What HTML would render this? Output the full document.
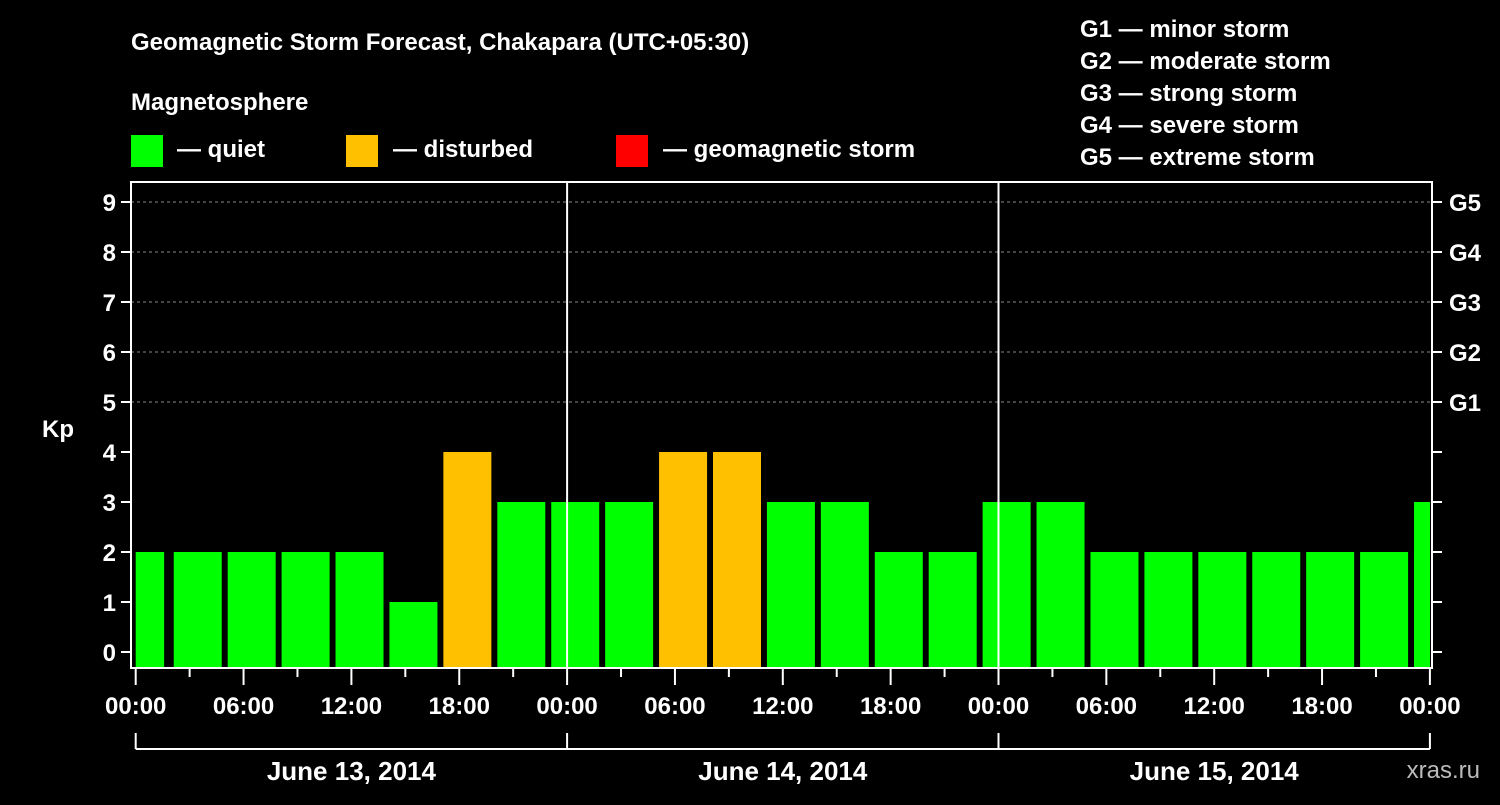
<!DOCTYPE html>
<html><head><meta charset="utf-8"><style>
body{margin:0;background:#000;width:1500px;height:800px;overflow:hidden}
svg text{font-family:"Liberation Sans",Arial,sans-serif;font-weight:bold;fill:#fff}
</style></head><body>
<svg id="c" width="1500" height="800">
<text x="131" y="50" font-size="24">Geomagnetic Storm Forecast, Chakapara (UTC+05:30)</text>
<text x="131" y="110" font-size="24">Magnetosphere</text>
<rect x="131" y="135" width="32" height="32" fill="#00ff00"/>
<text x="177" y="157" font-size="24">— quiet</text>
<rect x="346" y="135" width="32" height="32" fill="#ffc000"/>
<text x="393" y="157" font-size="24">— disturbed</text>
<rect x="616" y="135" width="32" height="32" fill="#ff0000"/>
<text x="663" y="157" font-size="24">— geomagnetic storm</text>
<g font-size="24">
<text x="1080" y="37">G1 — minor storm</text>
<text x="1080" y="69">G2 — moderate storm</text>
<text x="1080" y="101">G3 — strong storm</text>
<text x="1080" y="133">G4 — severe storm</text>
<text x="1080" y="165">G5 — extreme storm</text>
</g>
<text x="42" y="437" font-size="24">Kp</text>
<text x="1480" y="778" font-size="24" text-anchor="end" fill="#bbb" style="fill:#bbb;font-weight:normal">xras.ru</text>
<g id="g"></g>
</svg>
<script>
const kpValues=[2,2,2,2,2,1,4,3,3,3,4,4,3,3,2,2,3,3,2,2,2,2,2,2,3];
const timeLabels=["00:00","06:00","12:00","18:00","00:00","06:00","12:00","18:00","00:00","06:00","12:00","18:00","00:00"];
const dateLabels=["June 13, 2014","June 14, 2014","June 15, 2014"];
const gLabels=["G1","G2","G3","G4","G5"];
const NS="http://www.w3.org/2000/svg",g=document.getElementById('g');
const L=131,R=1432,T=182,B=668,X0=135.7,DAY=431.4;
const y=v=>652-v*50, xh=h=>X0+h*DAY/24;
function mk(t,a,p){const e=document.createElementNS(NS,t);for(const k in a)e.setAttribute(k,a[k]);(p||g).appendChild(e);return e;}
// grid dashed 5..9
for(let v=5;v<=9;v++){const l=mk('line',{x1:L,x2:R,y1:y(v),y2:y(v),stroke:'#888','stroke-dasharray':'3,3'});

}
// bars
kpValues.forEach((v,i)=>{let x1,x2;
 if(i===0){x1=xh(0);x2=xh(1.75)-3;}else{const s=xh(1.95+3*(i-1));x1=s+3;x2=Math.min(s+51,R-2);}
 const r=mk('rect',{x:x1,y:y(v),width:Math.max(0,x2-x1),height:B-y(v),fill:v>=5?'#ff0000':(v>=4?'#ffc000':'#00ff00')});
 
 });
// day separators
[1,2].forEach(d=>{const l=mk('line',{x1:xh(24*d),x2:xh(24*d),y1:T,y2:B,stroke:'#fff','stroke-width':2});

});
// frame
const f=mk('rect',{x:L,y:T,width:R-L,height:B-T,fill:'none',stroke:'#fff','stroke-width':2});


// y ticks
for(let v=0;v<=9;v++){mk('line',{x1:L-10,x2:L,y1:y(v),y2:y(v),stroke:'#fff','stroke-width':2});
 mk('line',{x1:R,x2:R+10,y1:y(v),y2:y(v),stroke:'#fff','stroke-width':2});
 const t=mk('text',{x:L-15,y:y(v)+9,'font-size':24,'text-anchor':'end'});t.textContent=v;
 
 }
gLabels.forEach((s,i)=>{const t=mk('text',{x:1449,y:y(5+i)+9,'font-size':24});t.textContent=s;
 
 });
// x ticks
for(let h=0;h<=72;h+=3){const maj=h%6===0;mk('line',{x1:xh(h),x2:xh(h),y1:B,y2:B+(maj?17:9),stroke:'#fff','stroke-width':2});}
timeLabels.forEach((s,i)=>{const t=mk('text',{x:xh(6*i),y:714,'font-size':24,'text-anchor':'middle'});t.textContent=s;
 
 });
// date bracket
mk('line',{x1:xh(0),x2:xh(72),y1:749,y2:749,stroke:'#fff','stroke-width':2});
for(let d=0;d<=3;d++)mk('line',{x1:xh(24*d),x2:xh(24*d),y1:733,y2:749,stroke:'#fff','stroke-width':2});
dateLabels.forEach((s,i)=>{const t=mk('text',{x:xh(24*i+12),y:780,'font-size':26,'text-anchor':'middle'});t.textContent=s;
 
 });
</script>
</body></html>
